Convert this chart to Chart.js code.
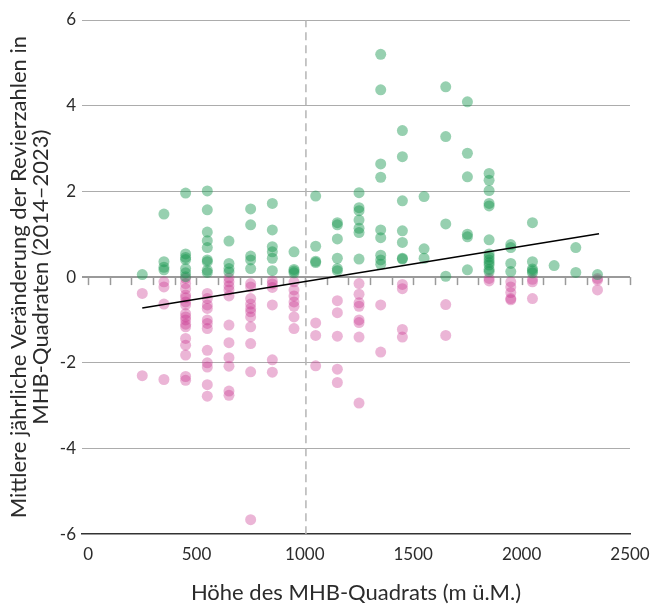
<!DOCTYPE html>
<html><head><meta charset="utf-8">
<script src="https://cdn.jsdelivr.net/npm/chart.js@4.4.1/dist/chart.umd.min.js"></script>
<style>html,body{margin:0;padding:0;background:#fff}#wrap{width:654px;height:607px;position:relative}</style>
</head><body><div id="wrap"><canvas id="c"></canvas></div>
<script>
// Elevation classes (m ü.M.) of the MHB squares
const elevations = [250,350,450,550,650,750,850,950,1050,1150,1250,1350,1450,1550,1650,1750,1850,1950,2050,2150,2250,2350];
// Mean annual change per square, positive values (green)
const increases = [
  [0.06],
  [1.47,0.36,0.23,0.17],
  [1.96,0.54,0.46,0.41,0.2,0.1,0.01],
  [2.01,1.57,1.05,0.85,0.69,0.4,0.36,0.16,0.11],
  [0.84,0.32,0.2,0.12],
  [1.59,1.22,0.49,0.4,0.2],
  [1.72,1.1,0.71,0.59,0.44,0.15],
  [0.59,0.18,0.14,0.1],
  [1.89,0.72,0.37,0.34],
  [1.27,1.22,0.89,0.44,0.2,0.15],
  [1.97,1.62,1.55,1.33,1.14,1.04,0.42],
  [5.2,4.37,2.64,2.33,1.1,0.92,0.51,0.4,0.3],
  [3.42,2.81,1.78,1.08,0.81,0.44,0.42],
  [1.88,0.66,0.44],
  [4.44,3.28,1.24,0.02],
  [4.09,2.89,2.34,1.0,0.94,0.17],
  [2.42,2.26,2.02,1.72,1.66,0.87,0.54,0.47,0.4,0.34,0.28,0.18,0.13],
  [0.76,0.69,0.32,0.13],
  [1.27,0.36,0.19,0.15,0.1],
  [0.27],
  [0.69,0.11],
  [0.06]
];
// Mean annual change per square, negative values (pink)
const decreases = [
  [-0.38,-2.3],
  [-0.11,-0.23,-0.63,-2.39],
  [-0.03,-0.15,-0.27,-0.42,-0.48,-0.58,-0.65,-0.85,-0.93,-1.0,-1.1,-1.16,-1.43,-1.59,-1.82,-2.32,-2.41],
  [-0.38,-0.5,-0.65,-0.73,-1.0,-1.08,-1.2,-1.71,-2.0,-2.1,-2.51,-2.78],
  [-0.02,-0.11,-0.21,-0.3,-0.44,-1.12,-1.53,-1.88,-2.08,-2.66,-2.76],
  [-0.15,-0.23,-0.5,-0.63,-0.73,-0.81,-0.93,-1.16,-1.55,-2.21,-5.66],
  [-0.09,-0.16,-0.24,-0.65,-1.93,-2.22],
  [-0.11,-0.3,-0.44,-0.58,-0.68,-0.93,-1.2],
  [-1.07,-1.36,-2.07],
  [-0.55,-0.83,-1.38,-2.15,-2.46],
  [-0.15,-0.4,-0.6,-0.68,-1.0,-1.06,-1.4,-2.94],
  [-0.65,-1.75],
  [-0.17,-0.27,-1.22,-1.4],
  [],
  [-0.64,-1.36],
  [],
  [-0.03,-0.09],
  [-0.11,-0.23,-0.36,-0.5,-0.53],
  [-0.05,-0.11,-0.5],
  [],
  [],
  [-0.03,-0.07,-0.3]
];
// Linear trend (start / end)
const trendX = [250, 2357];
const trendY = [-0.72, 1.01];
// Mean elevation marker
const meanElevation = 1005;
const xTicks = [0,500,1000,1500,2000,2500];
const yTicks = [-6,-4,-2,0,2,4,6];
const xMinor = [0,100,200,300,400,500,600,700,800,900,1000,1100,1200,1300,1400,1500,1600,1700,1800,1900,2000,2100,2200,2300,2400,2500];

const toPoints = groups => elevations.flatMap((e,i) => groups[i].map(v => ({x:e, y:v})));
const FONT = 'Lato, "Noto Sans", sans-serif';
const TXT = '#2b2b2b';

const minorTicks = {
  id: 'minorTicks',
  beforeDatasetsDraw(chart) {
    const {ctx, scales:{x, y}} = chart;
    const y0 = y.getPixelForValue(0);
    ctx.save();
    ctx.strokeStyle = '#9a9a9a';
    ctx.lineWidth = 1.5;
    xMinor.forEach(v => {
      const px = Math.round(x.getPixelForValue(v)) + 0.5;
      ctx.beginPath(); ctx.moveTo(px, y0); ctx.lineTo(px, y0 + 8); ctx.stroke();
    });
    ctx.restore();
  }
};

new Chart(document.getElementById('c'), {
  type: 'scatter',
  data: {
    datasets: [
      { label: 'Zunahme', data: toPoints(increases), backgroundColor: 'rgba(25,150,80,0.45)', borderWidth: 0, pointRadius: 5.5, pointHoverRadius: 5.5, order: 2 },
      { label: 'Abnahme', data: toPoints(decreases), backgroundColor: 'rgba(200,50,140,0.36)', borderWidth: 0, pointRadius: 5.5, pointHoverRadius: 5.5, order: 3 },
      { type: 'line', label: 'Trend', data: trendX.map((x,i)=>({x, y:trendY[i]})), borderColor: '#000', borderWidth: 1.5, pointRadius: 0, fill: false, order: 1 },
      { type: 'line', label: 'Mittel', data: [{x:meanElevation, y:-6},{x:meanElevation, y:6}], borderColor: '#b5b5b5', borderWidth: 1.5, borderDash: [8,5], pointRadius: 0, fill: false, order: 4 }
    ]
  },
  options: {
    responsive: true,
    maintainAspectRatio: false,
    animation: false,
    events: [],
    layout: { padding: { top: 20, right: 24, left: 0, bottom: 1 } },
    plugins: { legend: { display: false }, tooltip: { enabled: false } },
    scales: {
      x: {
        type: 'linear', min: -28, max: 2500,
        afterBuildTicks: s => { s.ticks = xTicks.map(v => ({value: v})); },
        afterFit: s => { s.paddingRight = 0; s.paddingLeft = 0; },
        grid: { display: false, drawTicks: false },
        border: { display: true, color: '#333', width: 1.5 },
        ticks: { color: TXT, font: { family: FONT, size: 17 }, padding: 10, maxRotation: 0, callback: v => String(v) },
        title: { display: true, text: 'Höhe des MHB-Quadrats (m ü.M.)', color: TXT, font: { family: FONT, size: 22 }, padding: { top: 5, bottom: 0 } }
      },
      y: {
        type: 'linear', min: -6, max: 6,
        afterBuildTicks: s => { s.ticks = yTicks.map(v => ({value: v})); },
        afterFit: s => { s.width = 82; },
        grid: {
          drawTicks: false,
          color: c => c.tick.value === 0 ? '#9a9a9a' : (c.tick.value === -6 ? 'rgba(0,0,0,0)' : '#acacac'),
          lineWidth: c => c.tick.value === 0 ? 2 : 1
        },
        border: { display: false },
        ticks: { color: TXT, font: { family: FONT, size: 17 }, padding: 6, callback: v => String(v) },
        title: { display: true, text: ['Mittlere jährliche Veränderung der Revierzahlen in', 'MHB-Quadraten (2014–2023)'], color: TXT, font: { family: FONT, size: 22, lineHeight: 1.0 }, padding: { top: 8, bottom: 0 } }
      }
    }
  },
  plugins: [minorTicks]
});
</script>
</body></html>
